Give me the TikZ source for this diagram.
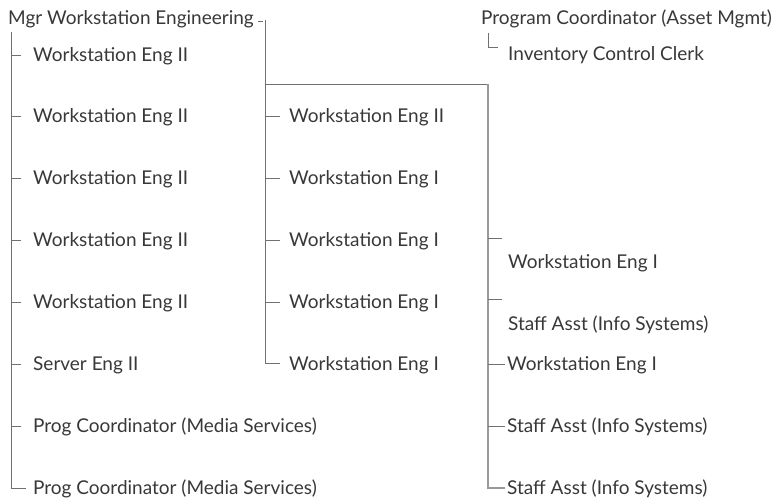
\documentclass[tikz,border=0pt]{standalone}
\usepackage{fontspec}
\setmainfont{Lato}
\definecolor{txt}{HTML}{383838}
\definecolor{ln}{HTML}{707070}
\definecolor{ln2}{HTML}{999999}
\begin{document}
\begin{tikzpicture}[x=1pt,y=-1pt,
  lbl/.style={anchor=west,inner sep=0pt,text=txt,font=\fontsize{19}{21}\selectfont,text height=12pt,text depth=0pt},
  conn/.style={draw=ln,line width=0.9pt},
  conn2/.style={draw=ln2,line width=1.6pt}]
\useasboundingbox (0,0) rectangle (777,498);
% nodes
\node[lbl] (L0) at (8,18) {Mgr Workstation Engineering};
\node[lbl] (L1) at (33,55) {Workstation Eng II};
\node[lbl] (L2) at (33,116.5) {Workstation Eng II};
\node[lbl] (L3) at (33,178) {Workstation Eng II};
\node[lbl] (L4) at (33,240) {Workstation Eng II};
\node[lbl] (L5) at (33,302) {Workstation Eng II};
\node[lbl] (L6) at (33,364) {Server Eng II};
\node[lbl] (L7) at (33,426) {Prog Coordinator (Media Services)};
\node[lbl] (L8) at (33,488) {Prog Coordinator (Media Services)};
\node[lbl] (M1) at (289,116.5) {Workstation Eng II};
\node[lbl] (M2) at (289,178) {Workstation Eng I};
\node[lbl] (M3) at (289,240) {Workstation Eng I};
\node[lbl] (M4) at (289,302) {Workstation Eng I};
\node[lbl] (M5) at (289,364) {Workstation Eng I};
\node[lbl] (R1) at (508,262.5) {Workstation Eng I};
\node[lbl] (R2) at (508,324.5) {Staff Asst (Info Systems)};
\node[lbl] (R3) at (507,364) {Workstation Eng I};
\node[lbl] (R4) at (507,426) {Staff Asst (Info Systems)};
\node[lbl] (R5) at (507,488) {Staff Asst (Info Systems)};
\node[lbl] (P) at (481,18) {Program Coordinator (Asset Mgmt)};
\node[lbl] (C) at (508,54) {Inventory Control Clerk};
% coordinates
\coordinate (tL) at (11,32);
\coordinate (bL) at (11,488);
\coordinate (mk1) at (258,21);
\coordinate (mk2) at (263,21);
\coordinate (tM) at (265,20);
\coordinate (bM) at (265,363);
\coordinate (hB) at (265,84);
\coordinate (tR) at (488,84);
\coordinate (bR) at (488,488);
\coordinate (rt1) at (488,238);
\coordinate (rt1e) at (502,238);
\coordinate (rt2) at (488,299);
\coordinate (rt2e) at (502,299);
\coordinate (tP) at (488,33);
\coordinate (cP) at (488,47);
\coordinate (cPe) at (498,47);
% left trunk
\draw[conn] (tL) -- (bL) -- ([xshift=-7pt]bL -| L8.west);
\foreach \n in {L1,L2,L3,L4,L5,L6,L7}
  \draw[conn] (tL |- \n) -- ([xshift=-12pt]\n.west);
% manager tick and middle trunk
\draw[conn] (mk1) -- (mk2);
\draw[conn] (tM) -- (bM) -- ([xshift=-9pt]bM -| M5.west);
\foreach \n in {M1,M2,M3,M4}
  \draw[conn] (tM |- \n) -- ([xshift=-9pt]\n.west);
\draw[conn] (hB) -- (tR);
% right trunk
\draw[conn2] (tR) -- (bR) -- ([xshift=-2pt]bR -| R5.west);
\draw[conn] (rt1) -- (rt1e);
\draw[conn] (rt2) -- (rt2e);
\draw[conn] (tR |- R3) -- ([xshift=-2pt]R3.west);
\draw[conn] (tR |- R4) -- ([xshift=-2pt]R4.west);
% asset mgmt
\draw[conn] (tP) -- (cP) -- (cPe);
\end{tikzpicture}
\end{document}
